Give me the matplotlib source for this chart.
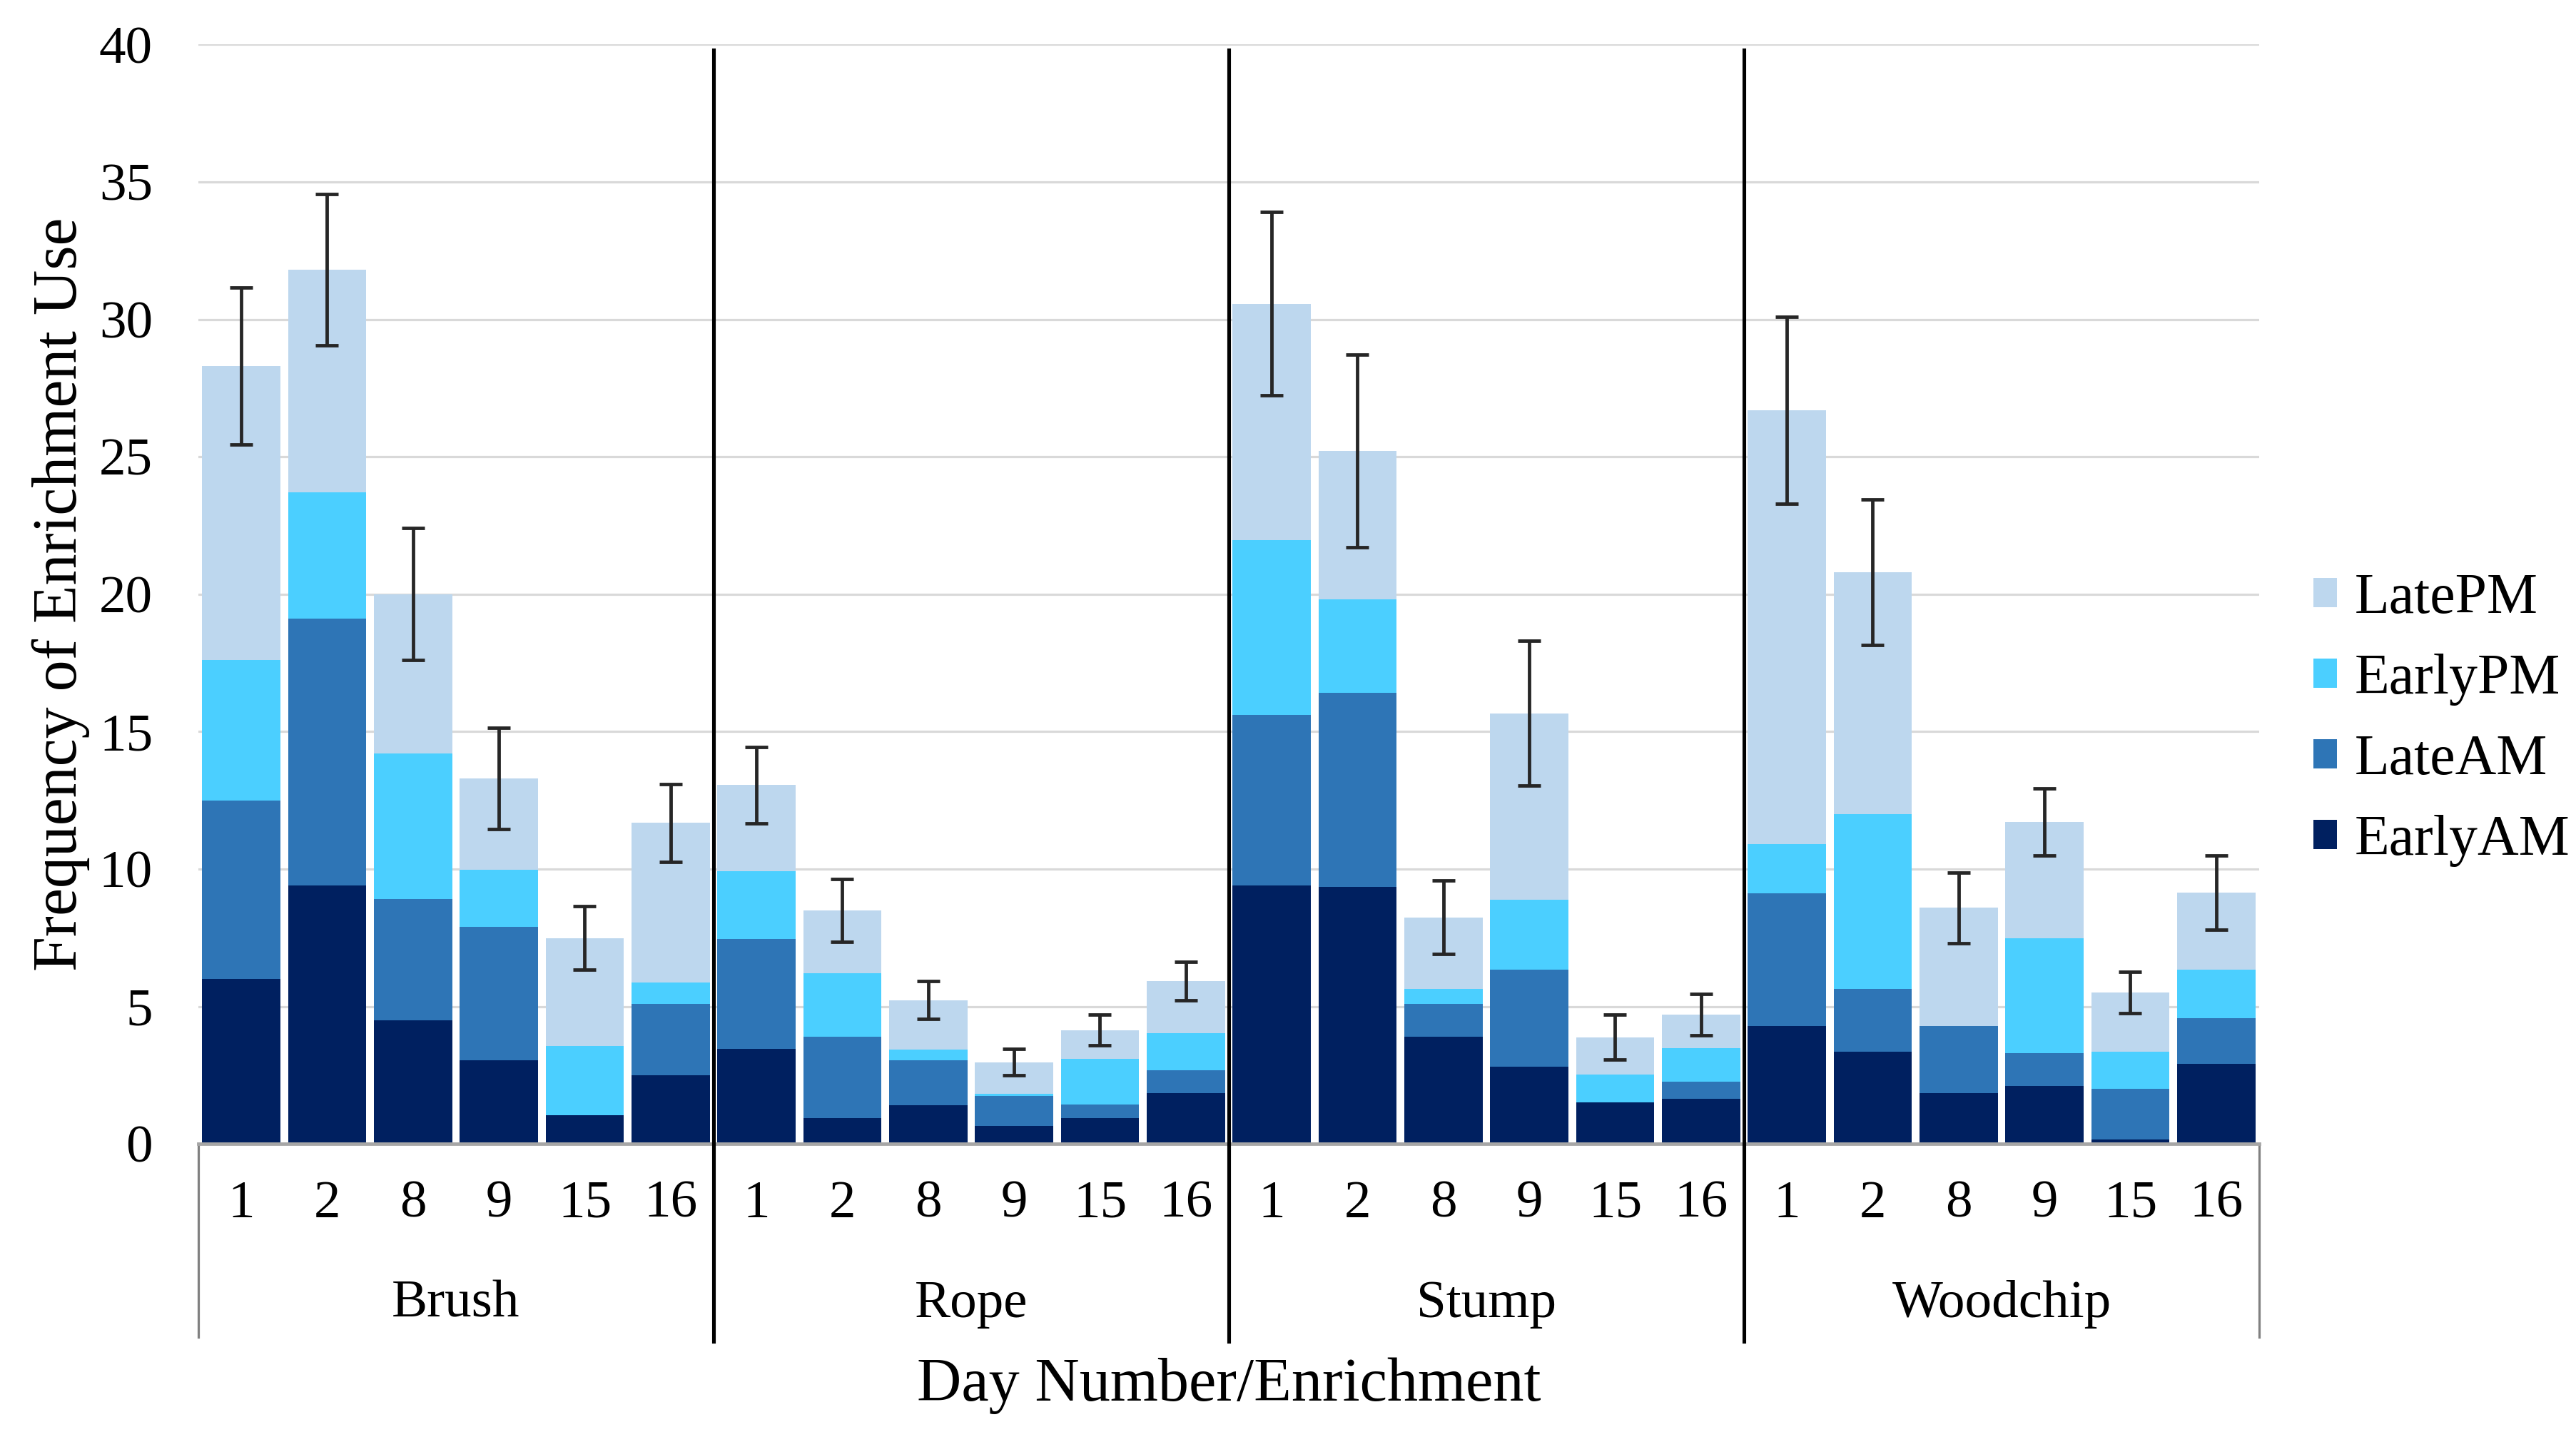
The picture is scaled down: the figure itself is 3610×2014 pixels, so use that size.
import matplotlib
matplotlib.use('Agg')
import matplotlib.pyplot as plt
import numpy as np

plt.rcParams['font.family'] = ['Liberation Serif', 'DejaVu Serif']

# Data
enrichments = ['Brush', 'Rope', 'Stump', 'Woodchip']
days = ['1', '2', '8', '9', '15', '16']

early_am = [6.0, 9.4, 4.5, 3.05, 1.05, 2.5,
            3.45, 0.95, 1.4, 0.65, 0.95, 1.85,
            9.4, 9.35, 3.9, 2.8, 1.5, 1.65,
            4.3, 3.35, 1.85, 2.1, 0.15, 2.9]
late_am = [6.5, 9.7, 4.4, 4.85, 0.0, 2.58,
           4.0, 2.95, 1.64, 1.09, 0.49, 0.82,
           6.2, 7.06, 1.2, 3.55, 0.0, 0.6,
           4.81, 2.3, 2.43, 1.21, 1.86, 1.66]
early_pm = [5.1, 4.6, 5.3, 2.06, 2.51, 0.79,
            2.48, 2.32, 0.38, 0.08, 1.64, 1.37,
            6.37, 3.4, 0.55, 2.54, 1.01, 1.23,
            1.8, 6.36, 0.0, 4.18, 1.33, 1.78]
late_pm = [10.7, 8.1, 5.8, 3.34, 3.93, 5.81,
           3.13, 2.27, 1.81, 1.15, 1.06, 1.88,
           8.6, 5.4, 2.59, 6.78, 1.37, 1.23,
           15.79, 8.78, 4.31, 4.23, 2.16, 2.81]
err = [2.85, 2.75, 2.4, 1.85, 1.15, 1.42,
       1.39, 1.15, 0.68, 0.48, 0.55, 0.71,
       3.33, 3.5, 1.34, 2.64, 0.82, 0.75,
       3.4, 2.65, 1.29, 1.22, 0.75, 1.35]

series = [('EarlyAM', early_am, '#002060'),
          ('LateAM', late_am, '#2E75B6'),
          ('EarlyPM', early_pm, '#4BCFFF'),
          ('LatePM', late_pm, '#BDD7EE')]

fig = plt.figure(figsize=(15.68, 8.748), dpi=230.23)
ax = fig.add_axes([0.077, 0.204, 0.800, 0.765])

x = np.arange(len(early_am))
bottom = np.zeros(len(x))
for name, vals, col in series:
    ax.bar(x, vals, bottom=bottom, width=0.91, color=col, label=name, zorder=2)
    bottom += np.array(vals)

ax.errorbar(x, bottom, yerr=err, fmt='none', ecolor='#262626', elinewidth=1.5,
            capsize=5, capthick=1.5, zorder=3)

ax.set_xlim(-0.5, len(x) - 0.5)
ax.set_ylim(0, 40)
ax.set_yticks(range(0, 41, 5))
ax.yaxis.grid(True, color='#D9D9D9', linewidth=1.0, zorder=0)
ax.set_axisbelow(True)
for s in ['top', 'right', 'left']:
    ax.spines[s].set_visible(False)
ax.spines['bottom'].set_color('#A6A6A6')
ax.spines['bottom'].set_linewidth(1.5)
ax.tick_params(axis='both', length=0, labelsize=23.5)
ax.tick_params(axis='y', pad=20)
ax.tick_params(axis='x', pad=16)
ax.set_xticks(x)
ax.set_xticklabels(days * len(enrichments))

trans = ax.get_xaxis_transform()
n = len(days)
for i, g in enumerate(enrichments):
    ax.text(i * n + (n - 1) / 2, -0.146, g, transform=trans, ha='center',
            va='center', fontsize=23.5)
# group boundaries
for i in range(len(enrichments) + 1):
    xb = i * n - 0.5
    if 0 < i < len(enrichments):
        ax.plot([xb, xb], [-0.18, 0.995], transform=trans, color='black',
                linewidth=1.6, clip_on=False, zorder=4)
    else:
        ax.plot([xb, xb], [-0.176, 0], transform=trans, color='#808080',
                linewidth=1.0, clip_on=False)

ax.set_ylabel('Frequency of Enrichment Use', fontsize=27.5, labelpad=4)
ax.set_xlabel('Day Number/Enrichment', fontsize=27)
ax.xaxis.label.set_va('center')
ax.xaxis.set_label_coords(0.5, -0.22)

handles, labels = ax.get_legend_handles_labels()
fig.legend(handles[::-1], labels[::-1], loc='center left',
           bbox_to_anchor=(0.898, 0.499), frameon=False, fontsize=25,
           handlelength=0.42, handleheight=0.42, handletextpad=0.3,
           labelspacing=0.5, borderaxespad=0, borderpad=0)

fig.savefig('out.png', dpi=230.23)
